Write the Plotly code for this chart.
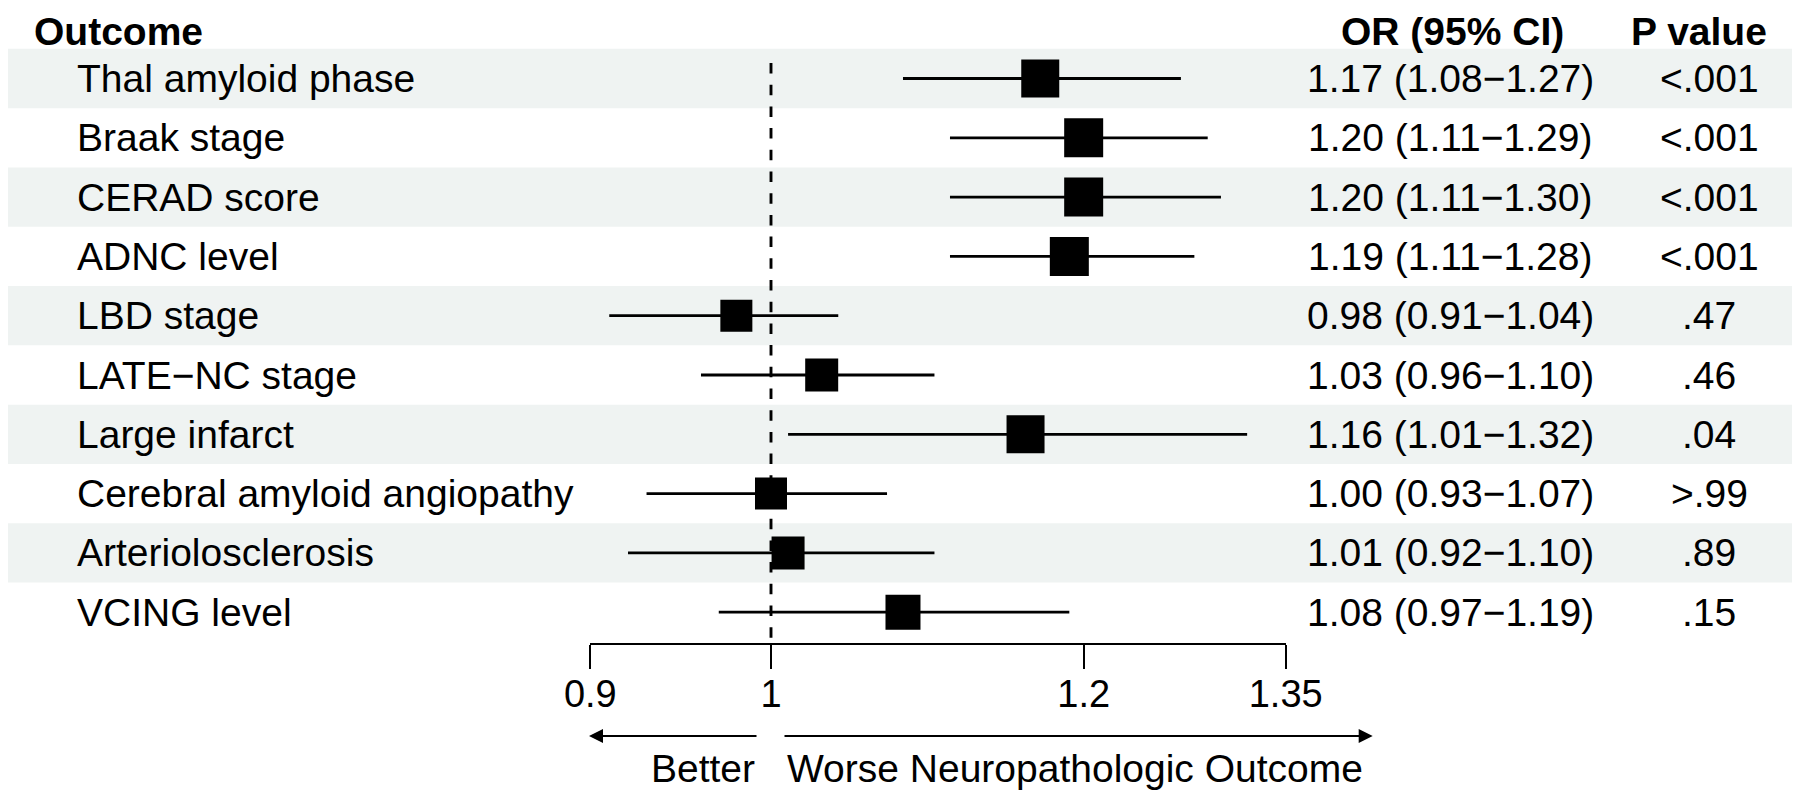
import math
import plotly.graph_objects as go

# ---------------- data ----------------
outcomes = ["Thal amyloid phase", "Braak stage", "CERAD score", "ADNC level",
            "LBD stage", "LATE\u2212NC stage", "Large infarct",
            "Cerebral amyloid angiopathy", "Arteriolosclerosis", "VCING level"]
odds_ratio = [1.17, 1.20, 1.20, 1.19, 0.98, 1.03, 1.16, 1.00, 1.01, 1.08]
ci_low = [1.08, 1.11, 1.11, 1.11, 0.91, 0.96, 1.01, 0.93, 0.92, 0.97]
ci_high = [1.27, 1.29, 1.30, 1.28, 1.04, 1.10, 1.32, 1.07, 1.10, 1.19]
p_values = ["<.001", "<.001", "<.001", "<.001", ".47", ".46", ".04", ">.99", ".89", ".15"]
tick_vals = [0.9, 1, 1.2, 1.35]
tick_text = ["0.9", "1", "1.2", "1.35"]

# ---------------- style / layout ----------------
W, H = 1800, 791
OFF = 8                               # page body margin around the figure (px)
FONT = "Liberation Sans, Arial, Helvetica, sans-serif"
box_px = [38, 39, 39, 39, 32, 33, 38, 32, 33, 35]
row_px0, row_h = 78.5, 59.3          # centre of first row, row spacing (screen px)
x_one_px, px_per_ln = 771.0, 1715.0  # screen pixel of OR=1, pixels per ln unit
axis_px = 644.0                       # screen y pixel of x-axis line
shade = "#EFF3F2"

def xpx(v):
    return x_one_px + px_per_ln * math.log(v)

def xp(px):          # screen px -> paper fraction
    return (px - OFF) / W

def yrow(px):        # screen px -> row units
    return (px - row_px0) / row_h

n = len(outcomes)
rows = list(range(n))
x0_px, x1_px = xpx(tick_vals[0]), xpx(tick_vals[-1])

fig = go.Figure()
fig.add_trace(go.Scatter(
    x=odds_ratio, y=rows, mode="markers",
    marker=dict(symbol="square", size=box_px, color="black", opacity=1,
                line=dict(width=0)),
    error_x=dict(type="data", symmetric=False,
                 array=[h - o for h, o in zip(ci_high, odds_ratio)],
                 arrayminus=[o - l for o, l in zip(odds_ratio, ci_low)],
                 color="black", thickness=2.8, width=0),
    cliponaxis=False, hoverinfo="skip", showlegend=False,
))

shapes = []
for i in rows:
    if i % 2 == 0:
        shapes.append(dict(type="rect", xref="paper", yref="y", x0=-0.01, x1=1.01,
                           y0=i - 0.5, y1=i + 0.5, fillcolor=shade,
                           line=dict(width=0), layer="below"))
shapes.append(dict(type="line", xref="x", yref="y", x0=1, x1=1,
                   y0=yrow(63), y1=yrow(axis_px),
                   line=dict(color="black", width=2.9, dash="10.5px,11.2px"),
                   layer="below"))

ann = []
tf = dict(family=FONT, size=39, color="black")
for i, (name, o, l, h, p) in enumerate(zip(outcomes, odds_ratio, ci_low, ci_high, p_values)):
    ann.append(dict(x=xp(75), y=i, xref="paper", yref="y", text=name,
                    xanchor="left", yanchor="middle", showarrow=False, font=tf))
    ann.append(dict(x=xp(1450), y=i, xref="paper", yref="y",
                    text=f"{o:.2f} ({l:.2f}\u2212{h:.2f})",
                    xanchor="center", yanchor="middle", showarrow=False, font=tf))
    ann.append(dict(x=xp(1709), y=i, xref="paper", yref="y", text=p,
                    xanchor="center", yanchor="middle", showarrow=False, font=tf))

for txt, xx, anc in [("<b>Outcome</b>", 32, "left"),
                     ("<b>OR (95% CI)</b>", 1452.5, "center"),
                     ("<b>P value</b>", 1698.5, "center")]:
    ann.append(dict(x=xp(xx), y=1, xref="paper", yref="paper", text=txt,
                    xanchor=anc, yanchor="top", showarrow=False, font=tf))

# direction arrows
ay_row = yrow(736)
ann.append(dict(x=xp(589), y=ay_row, xref="paper", yref="y", text="",
                showarrow=True, ax=758 - 589, ay=0, arrowhead=2,
                arrowwidth=2, arrowsize=1.4, arrowcolor="black"))
ann.append(dict(x=xp(1372.7), y=ay_row, xref="paper", yref="y", text="",
                showarrow=True, ax=783 - 1372.7, ay=0, arrowhead=2,
                arrowwidth=2, arrowsize=1.4, arrowcolor="black"))
ty = yrow(768)
ann.append(dict(x=xp(757), y=ty, xref="paper", yref="y", text="Better",
                xanchor="right", yanchor="middle", showarrow=False, font=tf))
ann.append(dict(x=xp(785), y=ty, xref="paper", yref="y",
                text="Worse Neuropathologic Outcome",
                xanchor="left", yanchor="middle", showarrow=False, font=tf))

fig.update_layout(
    width=W, height=H,
    margin=dict(l=0, r=0, t=0, b=0, pad=0, autoexpand=False),
    paper_bgcolor="white", plot_bgcolor="rgba(0,0,0,0)",
    shapes=shapes, annotations=ann, showlegend=False,
    xaxis=dict(type="log", domain=[xp(x0_px), xp(x1_px)],
               range=[math.log10(tick_vals[0]), math.log10(tick_vals[-1])],
               anchor="free", position=1 - (axis_px - OFF) / H, automargin=False,
               showline=True, linecolor="black", linewidth=2,
               ticks="outside", ticklen=24, tickwidth=2, tickcolor="black",
               ticklabelstandoff=-8,
               tickvals=tick_vals, ticktext=tick_text,
               tickfont=dict(family=FONT, size=38, color="black"),
               showgrid=False, zeroline=False, fixedrange=True),
    yaxis=dict(domain=[0, 1], range=[yrow(H + OFF), yrow(OFF)], visible=False,
               automargin=False, showgrid=False, zeroline=False, fixedrange=True),
)

fig.write_html("out.html")
